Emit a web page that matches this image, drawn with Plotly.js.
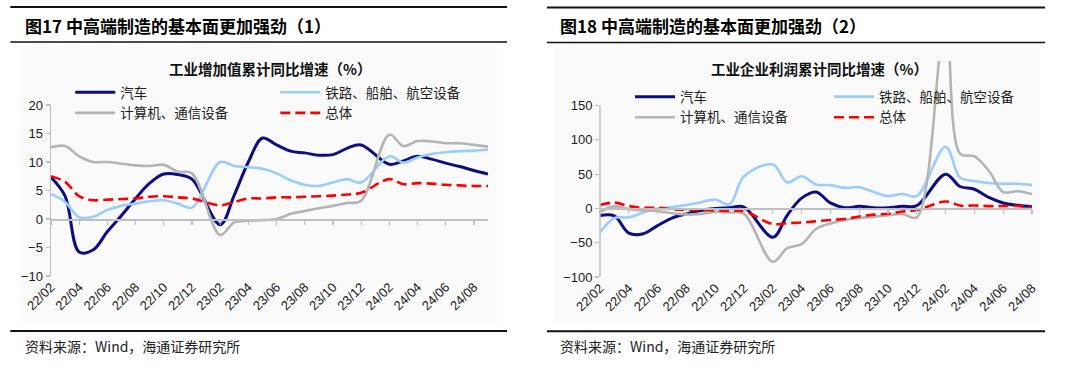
<!DOCTYPE html>
<html><head><meta charset="utf-8">
<script src="https://cdn.plot.ly/plotly-3.0.1.min.js"></script>
<style>
body{margin:0;background:#fff;width:1080px;height:368px;overflow:hidden;position:relative}
#c1{position:absolute;left:0;top:0;width:540px;height:368px}
#c2{position:absolute;left:540px;top:0;width:540px;height:368px}
</style>
</head><body><div id="c1"></div><div id="c2"></div>
<script>
// ---------- data ----------
const monthsIVA = ['22/02','22/03','22/04','22/05','22/06','22/07','22/08','22/09','22/10','22/11','22/12','23/01',
  '23/02','23/03','23/04','23/05','23/06','23/07','23/08','23/09','23/10','23/11','23/12','24/01',
  '24/02','24/03','24/04','24/05','24/06','24/07','24/08','24/09'];
const monthsProfit = ['22/02','22/03','22/04','22/05','22/06','22/07','22/08','22/09','22/10','22/11','22/12','23/01',
  '23/02','23/03','23/04','23/05','23/06','23/07','23/08','23/09','23/10','23/11','23/12','24/01',
  '24/02','24/03','24/04','24/05','24/06','24/07','24/08'];
const tickLabels = ['22/02','22/04','22/06','22/08','22/10','22/12','23/02','23/04','23/06','23/08','23/10','23/12','24/02','24/04','24/06','24/08'];
const seriesNames = ['汽车','铁路、船舶、航空设备','计算机、通信设备','总体'];

// 工业增加值累计同比增速（%）
const ivaAuto     = [7.3, 4.0, -5.8, -5.4, -2.2, 0.6, 3.6, 6.3, 7.9, 7.8, 7.0, null, -1.0, 4.2, 10.0, 14.2, 13.0, 11.9, 11.6, 11.2, 11.3, 12.4, 13.0, null, 9.6, 10.2, 11.0, 10.5, 9.8, 9.2, 8.5, 7.9];
const ivaRail     = [4.4, 3.0, 0.3, 0.4, 1.6, 2.3, 2.7, 3.1, 3.3, 2.7, 2.0, null, 10.0, 9.3, 9.1, 8.8, 8.0, 6.8, 6.0, 5.8, 6.4, 7.0, 6.4, null, 11.0, 9.9, 10.8, 11.4, 11.7, 11.9, 12.0, 12.2];
const ivaComputer = [12.6, 12.8, 11.0, 10.0, 10.0, 9.7, 9.4, 9.3, 9.5, 8.3, 8.0, null, -2.8, -0.6, -0.3, -0.2, 0.0, 0.9, 1.4, 1.9, 2.3, 2.8, 3.2, null, 14.8, 12.8, 13.7, 13.6, 13.3, 13.3, 13.0, 12.7];
const ivaTotal    = [7.5, 6.5, 4.0, 3.3, 3.4, 3.5, 3.6, 3.9, 4.0, 3.8, 3.6, null, 2.4, 3.0, 3.6, 3.6, 3.8, 3.8, 3.9, 4.0, 4.1, 4.3, 4.6, null, 7.0, 6.1, 6.3, 6.2, 6.0, 5.9, 5.8, 5.8];

// 工业企业利润累计同比增速（%）
const profitAuto     = [-10.5, -11.0, -36, -37, -25, -14, -8, -3, 0, 1, 2, null, -42, -10, 15, 24, 8, 1, 3, 1, 1, 3, 4, null, 50, 32, 28, 16, 8, 4.5, 2.5];
const profitRail     = [-35, -14, -13, -6, 0, 2, 5, 9, 13, 6, 47, null, 64, 38, 47, 35, 34, 30, 31, 24, 18, 21, 18, null, 90, 45, 40, 37, 36, 36, 34];
const profitComputer = [-5, 3, -1, -3, -4, -7, -9, -8, -5, -6, -8, null, -78, -58, -52, -30, -22, -17, -14, -12, -10, -8, -13, null, 280, 80, 76, 55, 24, 25, 21];
const profitTotal    = [5.0, 8.5, 3.5, 1.0, 1.0, -1.1, -2.1, -2.3, -3.0, -3.6, -4.0, null, -22.9, -21.4, -20.6, -18.8, -16.8, -15.5, -11.7, -9.0, -7.8, -4.4, -2.3, null, 10.2, 4.3, 4.3, 3.4, 3.5, 3.6, 0.5];

// ---------- styles ----------
const lineStyles = [
  {color:'#0c0c84', width:3},
  {color:'#99ccff', width:2.6},
  {color:'#b4b4b4', width:2.6},
  {color:'#ff0000', width:2.6, dash:'10px,5px'}
];
const AX = '#bfbfbf';
const TICKFONT = {family:'Arial, "Liberation Sans", sans-serif', size:13, color:'#1a1a1a'};
const CJK = '"Noto Sans CJK SC", "Noto Sans", sans-serif';

function build(id, o) {
  const W = 540, H = 368, m = o.margin;
  const pw = W - m.l - m.r, ph = H - m.t - m.b;
  const px = x => (x - m.l) / pw;
  const py = y => (H - m.b - y) / ph;
  const traces = o.series.map((ys, k) => ({
    type:'scatter', mode:'lines', x:o.months, y:ys, name:seriesNames[k],
    line:Object.assign({shape:'spline', smoothing:1}, lineStyles[k]),
    connectgaps:true, hoverinfo:'skip'
  }));
  // helper trace for the zero-crossing category axis
  traces.push({type:'scatter', mode:'lines', x:[0], y:[null], xaxis:'x2', showlegend:false, hoverinfo:'skip'});
  const tickIdx = tickLabels.map(t => o.months.indexOf(t));
  const n = o.months.length - 1;
  const zeroPos = (0 - o.yrange[0]) / (o.yrange[1] - o.yrange[0]);
  const shapes = [
    {type:'rect', xref:'paper', yref:'paper', x0:px(o.bg[0]), x1:px(o.bg[1]), y0:py(46), y1:py(322), fillcolor:'#fafafa', line:{width:0}, layer:'below'},
    {type:'line', xref:'paper', yref:'paper', x0:px(o.rule[0]), x1:px(o.rule[1]), y0:py(7), y1:py(7), line:{color:'#111', width:2}},
    {type:'line', xref:'paper', yref:'paper', x0:px(o.rule[0]), x1:px(o.rule[1]), y0:py(42), y1:py(42), line:{color:'#111', width:1.5}},
    {type:'line', xref:'paper', yref:'paper', x0:px(o.rule[0]), x1:px(o.rule[1]), y0:py(331), y1:py(331), line:{color:'#111', width:2}}
  ];
  if (o.axisTop !== undefined) {
    shapes.push({type:'line', xref:'paper', yref:'y', x0:0, x1:0, y0:o.yticks[0], y1:o.axisTop, line:{color:AX, width:1.5}});
  }
  const annotations = [
    {xref:'paper', yref:'paper', x:px(o.headX), y:py(25), xanchor:'left', yanchor:'middle', showarrow:false,
     text:'<b>'+o.header+'</b>', font:{family:CJK, size:17, color:'#000'}},
    {xref:'paper', yref:'paper', x:px(o.titleX), y:py(68), xanchor:'center', yanchor:'middle', showarrow:false,
     text:'<b>'+o.title+'</b>', font:{family:CJK, size:14.5, color:'#111'}},
    {xref:'paper', yref:'paper', x:px(o.headX), y:py(346), xanchor:'left', yanchor:'middle', showarrow:false,
     text:'资料来源：Wind，海通证券研究所', font:{family:CJK, size:14, color:'#222'}}
  ];
  const layout = {
    width:W, height:H, margin:m, paper_bgcolor:'rgba(0,0,0,0)', plot_bgcolor:'rgba(0,0,0,0)',
    showlegend:true,
    legend:{orientation:'h', x:px(o.legX), xanchor:'left', y:py(o.legY), yanchor:'top',
      entrywidth:o.entryW, entrywidthmode:'pixels', font:{family:CJK, size:13.5, color:'#222'},
      bgcolor:'rgba(0,0,0,0)', tracegroupgap:0, itemwidth:40},
    xaxis:{type:'category', range:[0, n], tickvals:tickLabels, ticktext:tickLabels, tickangle:-45,
      showline:false, ticks:'', showgrid:false, zeroline:false, tickfont:TICKFONT, fixedrange:true},
    xaxis2:{overlaying:'x', anchor:'free', position:zeroPos, range:[0, n], tickvals:tickIdx,
      showticklabels:false, ticks:'outside', ticklen:4, tickcolor:AX, tickwidth:1.2,
      showline:true, linecolor:AX, linewidth:1.5, showgrid:false, zeroline:false},
    yaxis:{range:o.yrange, tickvals:o.yticks, ticks:'outside', ticklen:4, tickcolor:AX, tickwidth:1.2,
      showline:o.axisTop === undefined, linecolor:AX, linewidth:1.5, showgrid:false, zeroline:false,
      tickfont:TICKFONT, fixedrange:true},
    shapes:shapes, annotations:annotations
  };
  Plotly.newPlot(id, traces, layout, {staticPlot:true, displayModeBar:false});
}

build('c1', {
  months:monthsIVA, series:[ivaAuto, ivaRail, ivaComputer, ivaTotal],
  margin:{l:50.7, r:52, t:105, b:92}, yrange:[-10, 20], yticks:[-10,-5,0,5,10,15,20],
  header:'图17 中高端制造的基本面更加强劲（1）', title:'工业增加值累计同比增速（%）',
  headX:23, titleX:270, rule:[10, 507], bg:[20, 497], legX:70, legY:77, entryW:150
});
build('c2', {
  months:monthsProfit, series:[profitAuto, profitRail, profitComputer, profitTotal],
  margin:{l:60, r:48, t:60.6, b:91.3}, yrange:[-100, 215], yticks:[-100,-50,0,50,100,150], axisTop:150,
  header:'图18 中高端制造的基本面更加强劲（2）', title:'工业企业利润累计同比增速（%）',
  headX:18, titleX:279.5, rule:[7, 505], bg:[14, 500], legX:90, legY:81, entryW:144
});
</script>
</body></html>
